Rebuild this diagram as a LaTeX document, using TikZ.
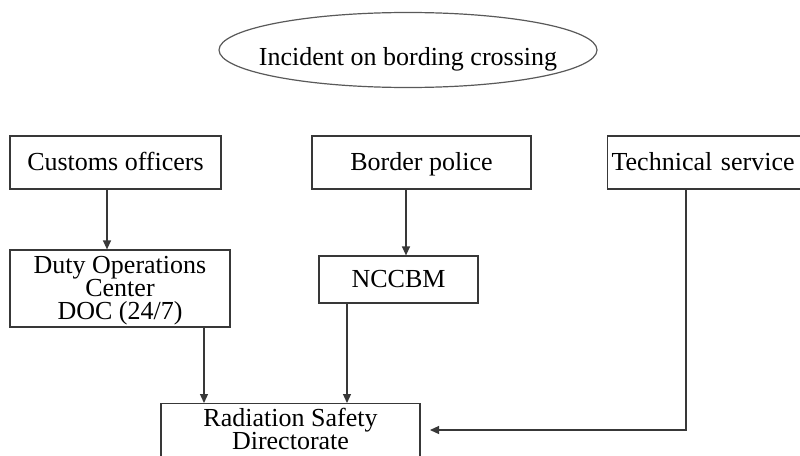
\documentclass[tikz,border=0pt]{standalone}
\usepackage{fontspec}
\setmainfont{Liberation Serif}
\usetikzlibrary{arrows.meta,shapes.geometric}
\begin{document}
\begin{tikzpicture}[x=1pt,y=1pt,
  box/.style={draw=black!78,line width=1.2pt,rectangle,inner sep=0pt,align=center,
    font=\fontsize{26}{23}\selectfont},
  one/.style={text height=20pt,text depth=3.5pt},
  arr/.style={draw=black!78,line width=1.2pt,-{Triangle[length=9pt,width=8pt]}}]
\useasboundingbox (0,0) rectangle (800,-455);
\fill[white] (0,0) rectangle (800,-455);
\node[inner sep=0pt,one,font=\fontsize{26}{23}\selectfont] (inc) at (408,-57) {Incident on bording crossing};
\draw[draw=black!65,line width=1.2pt] (inc.center) ++(0,7) ellipse [x radius=189pt,y radius=37.5pt];
\node[box,one,minimum width=211pt,minimum height=53pt] (cust) at (115.5,-162.5) {Customs officers};
\node[box,one,minimum width=219pt,minimum height=53pt] (bord) at (421.5,-162.5) {Border police};
\node[box,one,anchor=west,minimum height=53pt,text width=230pt,align=left,inner xsep=4pt] (tech) at (607,-162.5) {Technical service};
\node[box,minimum width=220pt,minimum height=77pt] (doc) at (120,-288.5) {\rule{0pt}{21pt}Duty Operations\\Center\\DOC (24/7)};
\node[box,one,minimum width=159pt,minimum height=47pt] (ncc) at (398.5,-279.5) {NCCBM};
\node[box,anchor=north,minimum width=259pt,inner ysep=5pt] (rad) at (290.5,-403) {Radiation Safety\\Directorate\\~};
\coordinate (xc) at (107,0);
\coordinate (xb) at (406,0);
\coordinate (xd) at (204,0);
\coordinate (xn) at (347,0);
\coordinate (xt) at (686,0);
\coordinate (tip) at (430,-430);
\draw[arr] (cust.south -| xc) -- (doc.north -| xc);
\draw[arr] (bord.south -| xb) -- (ncc.north -| xb);
\draw[arr] (doc.south -| xd) -- (rad.north -| xd);
\draw[arr] (ncc.south -| xn) -- (rad.north -| xn);
\draw[arr] (tech.south -| xt) |- (tip);
\end{tikzpicture}
\end{document}
